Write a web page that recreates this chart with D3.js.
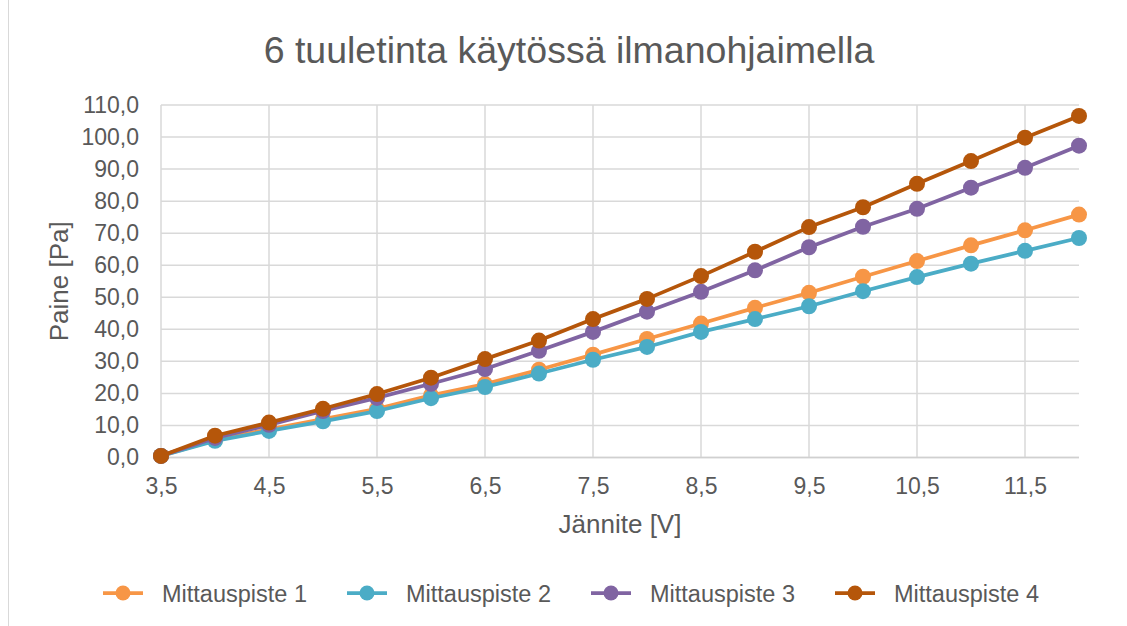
<!DOCTYPE html>
<html>
<head>
<meta charset="utf-8">
<script src="https://cdn.jsdelivr.net/npm/d3@7"></script>
<style>
  body { margin: 0; background: #fff; }
  text { font-family: "Liberation Sans", Arial, sans-serif; fill: #595959; }
</style>
</head>
<body>
<div id="chart"></div>
<script>
// data
var voltages = [3.5, 4, 4.5, 5, 5.5, 6, 6.5, 7, 7.5, 8, 8.5, 9, 9.5, 10, 10.5, 11, 11.5, 12];
var xTicks = [3.5, 4.5, 5.5, 6.5, 7.5, 8.5, 9.5, 10.5, 11.5];
var yTicks = [0, 10, 20, 30, 40, 50, 60, 70, 80, 90, 100, 110];
var seriesNames = ["Mittauspiste 1", "Mittauspiste 2", "Mittauspiste 3", "Mittauspiste 4"];
var seriesColors = ["#F79646", "#4BACC6", "#8064A2", "#B5560A"];
var mp1 = [0.5, 5.5, 8.8, 12.0, 15.2, 19.4, 22.9, 27.4, 32.1, 37.0, 41.8, 46.7, 51.4, 56.4, 61.3, 66.2, 70.9, 75.8];
var mp2 = [0.5, 5.2, 8.3, 11.3, 14.5, 18.5, 22.0, 26.2, 30.5, 34.5, 39.2, 43.2, 47.2, 51.9, 56.3, 60.5, 64.5, 68.5];
var mp3 = [0.5, 6.1, 10.2, 14.5, 18.6, 23.0, 27.6, 33.3, 39.2, 45.5, 51.7, 58.4, 65.6, 72.0, 77.6, 84.2, 90.4, 97.3];
var mp4 = [0.5, 6.8, 10.9, 15.2, 19.8, 24.9, 30.7, 36.5, 43.2, 49.5, 56.6, 64.2, 71.9, 78.1, 85.4, 92.5, 99.8, 106.6];
var seriesValues = [mp1, mp2, mp3, mp4];

var W = 1127, H = 626;
var plot = {left: 161, right: 1079, top: 105, bottom: 457.5};
var fmt = function(v){ return d3.format(".1f")(v).replace(".", ","); };

var svg = d3.select("#chart")
  .append("svg")
    .attr("width", W)
    .attr("height", H);

svg.append("line")
    .attr("x1", 8.5).attr("x2", 8.5)
    .attr("y1", 0).attr("y2", H)
    .style("stroke", "#d9d9d9")
    .style("stroke-width", 1);

var x = d3.scaleLinear().domain([3.5, 12]).range([plot.left, plot.right]);
var y = d3.scaleLinear().domain([0, 110]).range([plot.bottom, plot.top]);

// horizontal gridlines
svg.append("g")
    .attr("class", "ygrid")
    .selectAll("line")
    .data(yTicks).enter()
  .append("line")
    .attr("x1", plot.left)
    .attr("x2", plot.right)
    .attr("y1", d=>y(d))
    .attr("y2", d=>y(d))
    .style("stroke", "#d9d9d9")
    .style("stroke-width", 1.5);

// vertical gridlines
svg.append("g")
    .attr("class", "xgrid")
    .selectAll("line")
    .data(xTicks).enter()
  .append("line")
    .attr("x1", d=>x(d))
    .attr("x2", d=>x(d))
    .attr("y1", plot.top)
    .attr("y2", plot.bottom)
    .style("stroke", "#d9d9d9")
    .style("stroke-width", 1.5);

// axes (labels only, Excel style)
var yAxis = svg.append("g")
    .attr("class", "yaxis")
    .attr("transform", "translate(" + plot.left + ",0)")
    .call(d3.axisLeft(y).tickValues(yTicks).tickFormat(fmt).tickSize(0).tickPadding(22));
yAxis.select("path").remove();
yAxis.selectAll("text")
    .style("font-size", "23px")
    .style("fill", "#595959");

var xAxis = svg.append("g")
    .attr("class", "xaxis")
    .attr("transform", "translate(0," + plot.bottom + ")")
    .call(d3.axisBottom(x).tickValues(xTicks).tickFormat(fmt).tickSize(0).tickPadding(20));
xAxis.select("path").remove();
xAxis.selectAll("text")
    .style("font-size", "23px")
    .style("fill", "#595959");

svg.append("line")
    .attr("x1", plot.left)
    .attr("x2", plot.right)
    .attr("y1", plot.bottom)
    .attr("y2", plot.bottom)
    .style("stroke", "#d0d0d0")
    .style("stroke-width", 1.5);

// series
var line = d3.line()
  .x((d,i)=>x(voltages[i]))
  .y(d=>y(d));

seriesValues.forEach(function(vals, s){
  var g = svg.append("g").attr("class", "series s" + (s+1));
  g.append("path")
      .attr("d", line(vals))
      .style("fill", "none")
      .style("stroke", seriesColors[s])
      .style("stroke-width", 3.75)
      .style("stroke-linejoin", "round");
  g.selectAll("circle")
      .data(vals).enter()
    .append("circle")
      .attr("cx", (d,i)=>x(voltages[i]))
      .attr("cy", d=>y(d))
      .attr("r", 8)
      .style("fill", seriesColors[s]);
});

// title
svg.append("text")
    .attr("x", 569)
    .attr("y", 63)
    .style("text-anchor", "middle")
    .style("font-size", "37.5px")
    .text("6 tuuletinta käytössä ilmanohjaimella");

// axis titles
svg.append("text")
    .attr("x", 620)
    .attr("y", 533)
    .style("text-anchor", "middle")
    .style("font-size", "26px")
    .text("Jännite [V]");

svg.append("text")
    .attr("transform", "translate(68," + ((plot.top + plot.bottom)/2) + ") rotate(-90)")
    .style("text-anchor", "middle")
    .style("font-size", "26px")
    .text("Paine [Pa]");

// legend
var legend = svg.append("g")
    .attr("class", "legend")
    .selectAll("g")
    .data(seriesNames).enter()
  .append("g")
    .attr("transform", (d,i)=>"translate(" + (103 + i*244) + ",593)");

legend.append("line")
    .attr("x1", 0).attr("x2", 40)
    .style("stroke", (d,i)=>seriesColors[i])
    .style("stroke-width", 3.75);

legend.append("circle")
    .attr("cx", 20)
    .attr("r", 7.5)
    .style("fill", (d,i)=>seriesColors[i]);

legend.append("text")
    .attr("x", 59)
    .attr("y", 8.5)
    .style("font-size", "23.5px")
    .text(d=>d);
</script>
</body>
</html>
